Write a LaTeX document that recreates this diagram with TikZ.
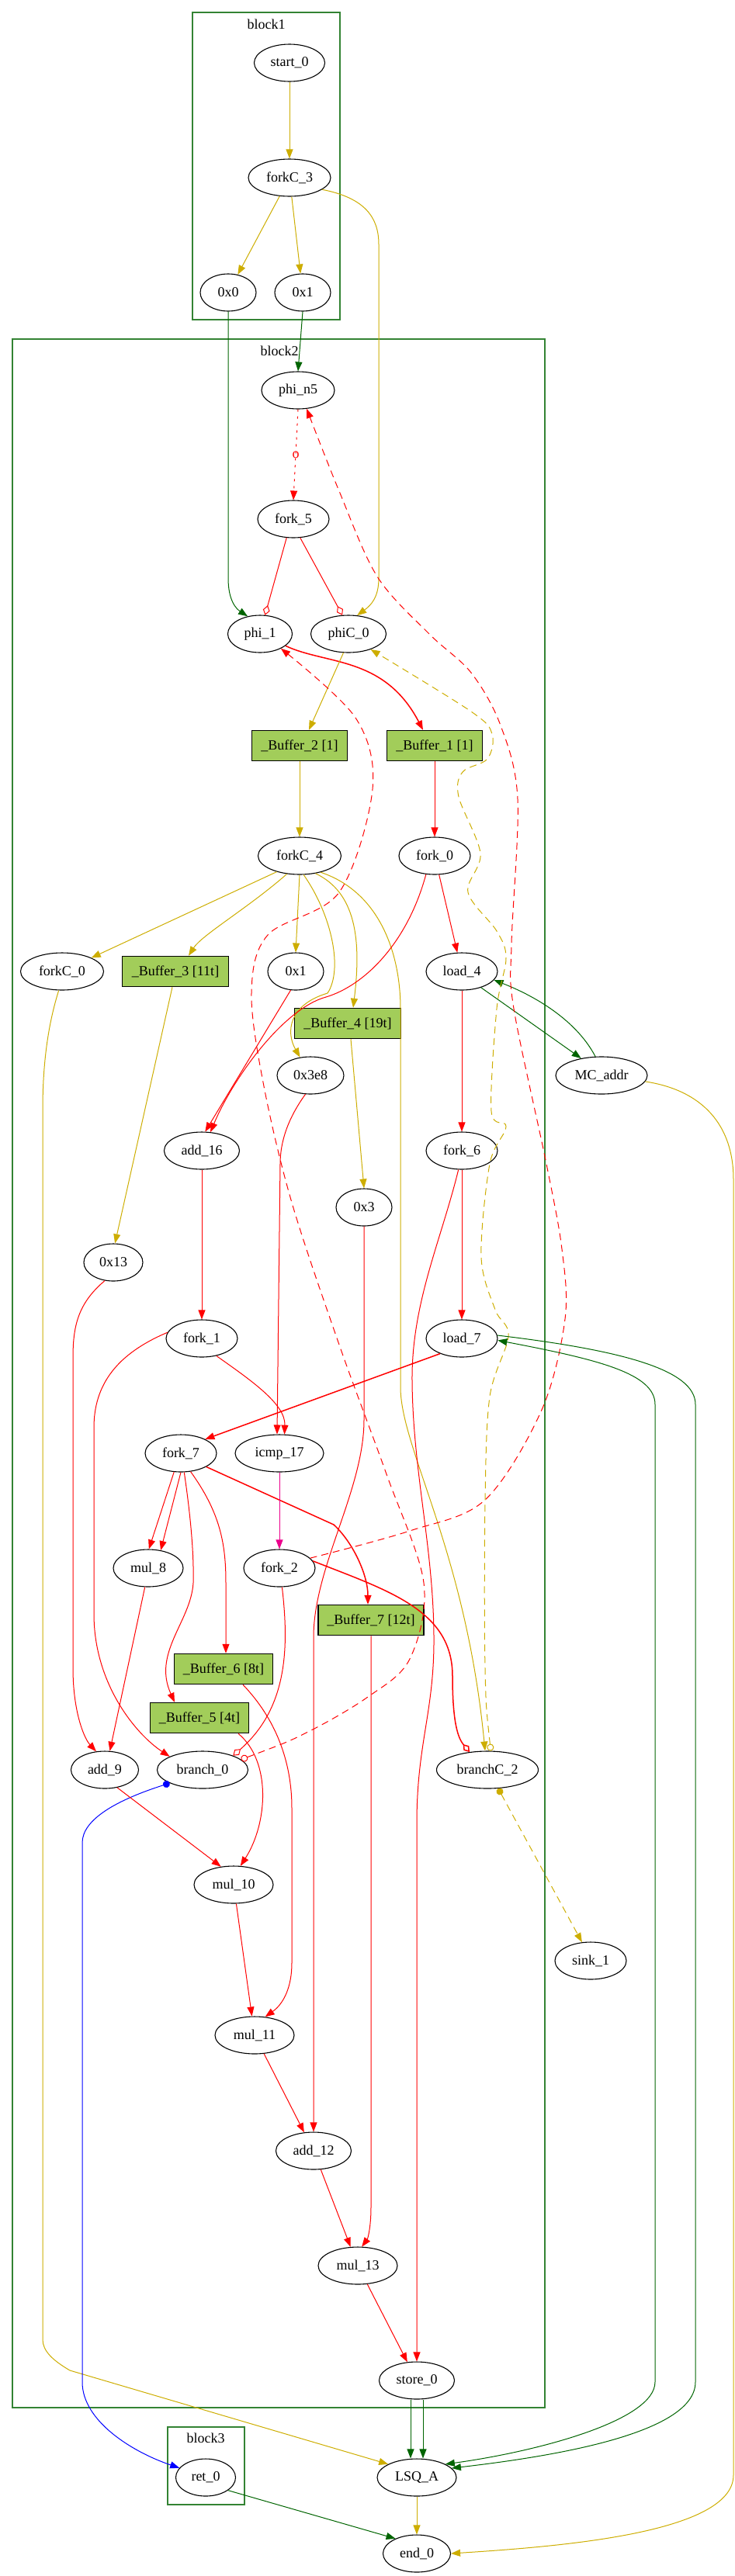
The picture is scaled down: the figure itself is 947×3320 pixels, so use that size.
\documentclass[tikz,border=0pt]{standalone}
\usepackage{fontspec}
\setmainfont{Liberation Serif}
\usetikzlibrary{shapes.geometric, arrows.meta, positioning}
\definecolor{dgreen}{RGB}{0,100,0}
\definecolor{gold}{RGB}{205,173,0}
\definecolor{bufgreen}{RGB}{162,205,90}

\begin{document}
\begin{tikzpicture}[x=1pt, y=-1pt, line width=1pt, >={Triangle[length=12pt, width=9pt]}, font=\fontsize{18}{20}\selectfont]
  \tikzstyle{unit} = [ellipse, draw=black, line width=1.1pt, inner sep=0pt, minimum height=48pt]
  \tikzstyle{buffer} = [rectangle, draw=black, line width=1.5pt, fill=bufgreen, inner sep=0pt, minimum height=39pt]
  \tikzstyle{cluster} = [draw=dgreen!80!white, line width=1.2pt]
  \tikzstyle{cond} = [-{Diamond[open, length=13pt, width=9pt]}]
  \tikzstyle{feedback} = [dash pattern=on 9pt off 6pt]

  \useasboundingbox (0,0) rectangle (947,3320);

  % basic blocks
  \draw [cluster] (248,16) rectangle (438,412);
  \draw [cluster] (16,437) rectangle (702,3103);
  \draw [cluster] (216,3128) rectangle (315,3228);
  \node (lbl_b1) at (343,31) {block1};
  \node (lbl_b2) at (360,452) {block2};
  \node (lbl_b3) at (265,3142) {block3};

  % block1
  \node [unit, minimum width=91pt] (start_0) at (373,81) {start\_0};
  \node [unit, minimum width=106pt] (forkC_3) at (373,229) {forkC\_3};
  \node [unit, minimum width=72pt] (c0x0) at (294,377) {0x0};
  \node [unit, minimum width=72pt] (c0x1) at (390,377) {0x1};

  % block2
  \node [unit, minimum width=94pt] (phi_n5) at (384,503) {phi\_n5};
  \node [unit, minimum width=92pt] (fork_5) at (378,669) {fork\_5};
  \node [unit, minimum width=83pt] (phi_1) at (335,817) {phi\_1};
  \node [unit, minimum width=97pt] (phiC_0) at (449,817) {phiC\_0};
  \node [buffer, minimum width=123pt] (buf_2) at (386,961) {\_Buffer\_2 [1]};
  \node [buffer, minimum width=123pt] (buf_1) at (560,961) {\_Buffer\_1 [1]};
  \node [unit, minimum width=107pt] (forkC_4) at (386,1103) {forkC\_4};
  \node [unit, minimum width=92pt] (fork_0) at (560,1103) {fork\_0};
  \node [unit, minimum width=107pt] (forkC_0) at (80,1252) {forkC\_0};
  \node [buffer, minimum width=137pt] (buf_3) at (226,1252) {\_Buffer\_3 [11t]};
  \node [unit, minimum width=72pt] (c1x1) at (381,1252) {0x1};
  \node [unit, minimum width=92pt] (load_4) at (595,1252) {load\_4};
  \node [buffer, minimum width=137pt] (buf_4) at (448,1319) {\_Buffer\_4 [19t]};
  \node [unit, minimum width=86pt] (c0x3e8) at (400,1386) {0x3e8};
  \node [unit, minimum width=118pt] (MC_addr) at (775,1386) {MC\_addr};
  \node [unit, minimum width=97pt] (add_16) at (260,1483) {add\_16};
  \node [unit, minimum width=92pt] (fork_6) at (595,1483) {fork\_6};
  \node [unit, minimum width=72pt] (c0x3) at (469,1556) {0x3};
  \node [unit, minimum width=76pt] (c0x13) at (146,1627) {0x13};
  \node [unit, minimum width=92pt] (fork_1) at (260,1725) {fork\_1};
  \node [unit, minimum width=92pt] (load_7) at (595,1725) {load\_7};
  \node [unit, minimum width=92pt] (fork_7) at (233,1873) {fork\_7};
  \node [unit, minimum width=114pt] (icmp_17) at (360,1873) {icmp\_17};
  \node [unit, minimum width=90pt] (mul_8) at (191,2021) {mul\_8};
  \node [unit, minimum width=92pt] (fork_2) at (360,2021) {fork\_2};
  \node [buffer, minimum width=136pt] (buf_7) at (478,2088) {\_Buffer\_7 [12t]};
  \node [buffer, minimum width=127pt] (buf_6) at (288,2151) {\_Buffer\_6 [8t]};
  \node [buffer, minimum width=127pt] (buf_5) at (257,2214) {\_Buffer\_5 [4t]};
  \node [unit, minimum width=87pt] (add_9) at (135,2281) {add\_9};
  \node [unit, minimum width=117pt] (branch_0) at (261,2281) {branch\_0};
  \node [unit, minimum width=131pt] (branchC_2) at (628,2281) {branchC\_2};
  \node [unit, minimum width=102pt] (mul_10) at (301,2429) {mul\_10};
  \node [unit, minimum width=92pt] (sink_1) at (761,2527) {sink\_1};
  \node [unit, minimum width=102pt] (mul_11) at (328,2623) {mul\_11};
  \node [unit, minimum width=97pt] (add_12) at (404,2772) {add\_12};
  \node [unit, minimum width=102pt] (mul_13) at (461,2920) {mul\_13};
  \node [unit, minimum width=97pt] (store_0) at (537,3068) {store\_0};

  % outside
  \node [unit, minimum width=77pt] (ret_0) at (265,3193) {ret\_0};
  \node [unit, minimum width=102pt] (LSQ_A) at (537,3193) {LSQ\_A};
  \node [unit, minimum width=87pt] (end_0) at (537,3291) {end\_0};

  % control tokens
  \draw[->, gold] (start_0) -- (forkC_3);
  \draw[->, gold] (forkC_3) -- (c0x0);
  \draw[->, gold] (forkC_3) -- (c0x1);
  \draw[->, gold] (forkC_3.-20) .. controls (470,255) and (488,280) .. (488,315) -- (488,745) .. controls (488,770) and (478,780) .. (phiC_0.65);
  \draw[->, dgreen] (c0x0.south) -- (294,745) .. controls (294,775) and (305,785) .. (phi_1.125);
  \draw[->, dgreen] (c0x1.south) -- (phi_n5.north);
  \draw[->, red, dash pattern=on 3pt off 6pt] (phi_n5.south) -- node[midway] {o} (fork_5.north);
  \draw[cond, red] (fork_5.-110) -- (phi_1.75);
  \draw[cond, red] (fork_5.-70) -- (phiC_0.108);
  \draw[->, red, line width=1.5pt] (phi_1.-25) .. controls (420,857) and (495,845) .. ([xshift=-15pt]buf_1.north);
  \draw[->, gold] (phiC_0.-105) -- ([xshift=12pt]buf_2.north);
  \draw[->, gold] (buf_2) -- (forkC_4);
  \draw[->, red] (buf_1) -- (fork_0);

  % forkC_4 fan out
  \draw[->, gold] (forkC_4.-145) -- (forkC_0.25);
  \draw[->, gold] (forkC_4.-125) .. controls (320,1170) and (260,1205) .. ([xshift=17pt]buf_3.north);
  \draw[->, gold] (forkC_4.south) -- (c1x1.north);
  \draw[->, gold] (forkC_4.-78) .. controls (428,1180) and (442,1250) .. (422,1280) .. controls (372,1295) and (368,1330) .. (c0x3e8.120);
  \draw[->, gold] (forkC_4.-48) .. controls (458,1150) and (466,1210) .. ([xshift=7pt]buf_4.north);
  \draw[->, gold] (forkC_4.-38) .. controls (490,1150) and (516,1230) .. (516,1300) -- (516,1790) .. controls (518,1870) and (600,2000) .. (branchC_2.97);

  \draw[->, red] (fork_0) -- (load_4);
  \draw[->, red] (fork_0.-115) .. controls (525,1215) and (470,1270) .. (420,1285) .. controls (365,1300) and (300,1390) .. (add_16.65);
  \draw[->, red] (c1x1.-105) -- (add_16.80);
  \draw[->, red] (load_4) -- (fork_6);
  \draw[->, dgreen] (load_4.-40) -- (MC_addr.140);
  \draw[->, dgreen] (MC_addr.108) .. controls (740,1310) and (680,1280) .. (load_4.-15);
  \draw[->, gold] (MC_addr.-8) .. controls (905,1405) and (945,1450) .. (945,1520) -- (945,3190) .. controls (945,3265) and (720,3282) .. (end_0.east);
  \draw[->, gold] ([xshift=-4pt]buf_3.south) -- (c0x13.85);
  \draw[->, gold] ([xshift=4pt]buf_4.south) -- (c0x3.north);
  \draw[->, gold] (forkC_0.-100) .. controls (62,1320) and (55,1370) .. (55,1430) -- (55,3015) .. controls (55,3030) and (68,3042) .. (90,3055) -- (LSQ_A.155);

  % data path
  \draw[->, red] (c0x3e8.-105) .. controls (372,1440) and (361,1470) .. (361,1500) -- ([xshift=-3pt]icmp_17.north);
  \draw[->, red] (c0x3.south) -- (469,1830) .. controls (469,1920) and (404,2020) .. (404,2110) -- (add_12.north);
  \draw[->, red] (add_16) -- (fork_1);
  \draw[->, red] (fork_6) -- (load_7);
  \draw[->, red] (fork_6.-100) .. controls (568,1600) and (530,1680) .. (531,1780) .. controls (532,1900) and (560,2000) .. (559,2120) .. controls (558,2210) and (537,2250) .. (537,2350) -- (store_0.north);
  \draw[->, red, line width=1.5pt] (load_7.-145) -- (fork_7.30);
  \draw[->, red] (fork_1.-50) .. controls (325,1780) and (368,1810) .. (icmp_17.75);
  \draw[->, red] (fork_1.170) .. controls (150,1745) and (121,1785) .. (121,1840) -- (121,2080) .. controls (121,2170) and (175,2235) .. (branch_0.158);
  \draw[->, red] (c0x13.-115) .. controls (100,1680) and (94,1710) .. (94,1750) -- (94,2150) .. controls (94,2205) and (108,2240) .. (add_9.115);
  \draw[->, red] (fork_7.-110) -- (mul_8.88);
  \draw[->, red] (fork_7.-90) -- (mul_8.55);
  \draw[->, red] (fork_7.-80) .. controls (245,1950) and (250,2000) .. (249,2040) .. controls (246,2090) and (196,2130) .. ([xshift=-32pt]buf_5.north);
  \draw[->, red] (fork_7.-62) .. controls (284,1950) and (291,1990) .. (291,2040) -- ([xshift=3pt]buf_6.north);
  \draw[->, red, line width=1.5pt] (fork_7.-28) -- (430,1965) .. controls (455,1988) and (474,2030) .. ([xshift=-4pt]buf_7.north);
  \draw[->, magenta] (icmp_17) -- (fork_2);
  \draw[cond, red] (fork_2.-82) .. controls (372,2120) and (372,2200) .. (branch_0.25);
  \draw[cond, red, line width=1.5pt] (fork_2.12) .. controls (500,2050) and (583,2075) .. (583,2160) .. controls (583,2220) and (590,2240) .. (branchC_2.135);

  % loop back edges
  \draw[->, red, feedback] plot[smooth, tension=0.55] coordinates {(fork_2.18) (528,1973) (625,1933) (698,1817) (728,1700) (724,1610) (704,1500) (662,1300) (659,1217) (667,1030) (645,935) (607,867) (553,817) (486,743) (437,633) (phi_n5.-65)};
  \draw[{Circle[open, length=9pt]}->, red, feedback] plot[smooth, tension=0.55] coordinates {(branch_0.15) (395,2233) (474,2187) (528,2138) (546,2040) (498,1900) (437,1733) (376,1550) (340,1400) (324,1280) (345,1205) (437,1150) (480,1017) (458,925) (phi_1.-35)};
  \draw[{Circle[open, length=9pt]}->, gold, feedback] plot[smooth, tension=0.55] coordinates {(branchC_2.80) (625,2150) (625,1935) (631,1800) (655,1722) (638,1688) (620,1620) (631,1500) (652,1452) (633,1432) (640,1300) (652,1235) (640,1200) (603,1150) (619,1100) (591,1027) (596,995) (628,978) (634,946) (607,917) (phiC_0.-35)};
  \draw[{Circle[length=9pt]}->, gold, feedback] (branchC_2.-60) -- (sink_1.115);
  \draw[{Circle[length=9pt]}->, blue] (branch_0.-158) .. controls (150,2320) and (106,2345) .. (106,2375) -- (106,3070) .. controls (106,3120) and (170,3160) .. (ret_0.160);

  \draw[->, red] (add_9.-55) -- (mul_10.125);
  \draw[->, red] ([xshift=50pt]buf_5.south) .. controls (350,2270) and (345,2350) .. (mul_10.70);
  \draw[->, red] (mul_8.-100) -- (add_9.75);
  \draw[->, red] ([xshift=25pt]buf_6.south) .. controls (355,2215) and (376,2270) .. (376,2330) -- (376,2530) .. controls (376,2560) and (366,2582) .. (mul_11.60);
  \draw[->, red] (mul_10) -- (mul_11);
  \draw[->, red] (mul_11) -- (add_12);
  \draw[->, red] (buf_7.south) -- (478,2845) .. controls (478,2870) and (474,2885) .. (mul_13.78);
  \draw[->, red] (add_12) -- (mul_13);
  \draw[->, red] (mul_13) -- (store_0);

  % memory
  \draw[->, dgreen] ([xshift=-8pt]store_0.south) -- ([xshift=-8pt]LSQ_A.north);
  \draw[->, dgreen] ([xshift=8pt]store_0.south) -- ([xshift=8pt]LSQ_A.north);
  \draw[->, dgreen] (load_7.5) .. controls (800,1740) and (896,1765) .. (896,1810) -- (896,3070) .. controls (896,3135) and (720,3165) .. (LSQ_A.15);
  \draw[<->, dgreen] (load_7.-3) .. controls (770,1752) and (844,1770) .. (844,1810) -- (844,3070) .. controls (844,3120) and (690,3160) .. (LSQ_A.25);
  \draw[->, dgreen] (ret_0.-30) -- (end_0.145);
  \draw[->, gold] (LSQ_A) -- (end_0);
\end{tikzpicture}
\end{document}
